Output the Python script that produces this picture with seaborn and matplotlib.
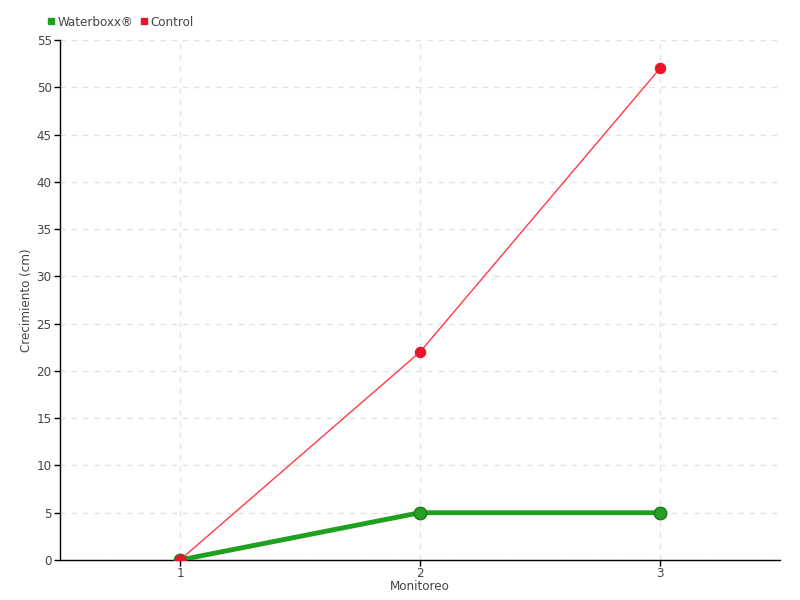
import matplotlib
matplotlib.use("Agg")
import matplotlib.pyplot as plt
import seaborn as sns
import pandas as pd
from matplotlib.lines import Line2D

monitoreo = [1, 2, 3]
waterboxx = [0, 5, 5]
control = [0, 22, 52]

df = pd.DataFrame({"Monitoreo": monitoreo, "Waterboxx": waterboxx, "Control": control})

sns.set_style("white")
plt.rcParams['font.family'] = ['DejaVu Sans']
plt.rcParams['font.stretch'] = 'condensed'

fig = plt.figure(figsize=(8, 6), dpi=100)
ax = fig.add_axes([0.075, 0.0667, 0.9, 0.8666])

green = "#20a020"
red = "#ff3a4a"

sns.lineplot(data=df, x="Monitoreo", y="Waterboxx", ax=ax, color=green, linewidth=3.5,
             marker="o", markersize=9, markerfacecolor="#24a024", markeredgecolor="#1a7a1a",
             markeredgewidth=1, zorder=3)
sns.lineplot(data=df, x="Monitoreo", y="Control", ax=ax, color=red, linewidth=1,
             marker="o", markersize=7.5, markerfacecolor="#e81428", markeredgecolor="#e81428",
             zorder=4)

ax.set_xlim(0.5, 3.5)
ax.set_ylim(0, 55)
ax.set_xticks(monitoreo)
ax.set_yticks(range(0, 56, 5))
ax.grid(True, linestyle=(0, (4, 4)), color="#e2e2e2", linewidth=1)
ax.set_axisbelow(True)
for s in ["top", "right"]:
    ax.spines[s].set_visible(False)
for s in ["left", "bottom"]:
    ax.spines[s].set_color("black")
    ax.spines[s].set_linewidth(1)
ax.tick_params(axis="both", colors="black", labelcolor="#444444", labelsize=9.5,
               length=4, width=1, direction="out", left=True, bottom=True)
ax.tick_params(axis="x", pad=1)
ax.tick_params(axis="y", pad=2)
ax.set_xlabel("Monitoreo", color="#444444", fontsize=9.5, labelpad=0)
ax.set_ylabel("Crecimiento (cm)", color="#444444", fontsize=9.5)
ax.yaxis.set_label_coords(-0.038, 0.5)

handles = [Line2D([], [], marker="s", linestyle="", color=green, markersize=4.5),
           Line2D([], [], marker="s", linestyle="", color="#e81428", markersize=4.5)]
fig.legend(handles, ["Waterboxx®", "Control"], loc="center left", bbox_to_anchor=(0.06, 0.963),
           ncol=2, frameon=False, fontsize=9.5, labelcolor="#444444", handlelength=0.5,
           handletextpad=0.25, columnspacing=0.5, borderaxespad=0, borderpad=0)

fig.savefig("out.png", dpi=100)
